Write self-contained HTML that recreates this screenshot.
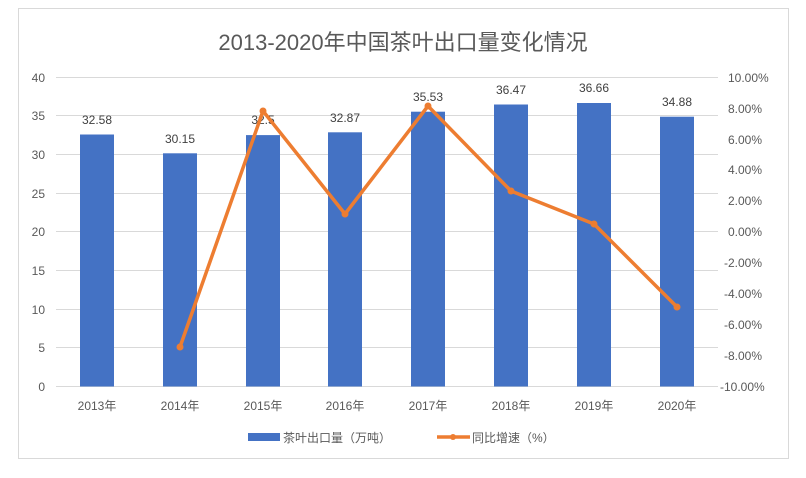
<!DOCTYPE html>
<html><head><meta charset="utf-8"><style>
body{margin:0;background:#fff;}
svg text{font-family:"Liberation Sans","Noto Sans CJK SC",sans-serif;}
</style></head><body>
<svg width="806" height="473" xmlns="http://www.w3.org/2000/svg">
<rect x="18.5" y="8.5" width="770" height="450" fill="#fff" stroke="#d9d9d9"/>
<text x="403" y="50" font-size="22" fill="#595959" text-anchor="middle">2013-2020年中国茶叶出口量变化情况</text>
<g stroke="#d9d9d9" stroke-width="1">
<line x1="56" y1="77.5" x2="718" y2="77.5"/><line x1="56" y1="115.5" x2="718" y2="115.5"/>
<line x1="56" y1="154.5" x2="718" y2="154.5"/><line x1="56" y1="193.5" x2="718" y2="193.5"/>
<line x1="56" y1="231.5" x2="718" y2="231.5"/><line x1="56" y1="270.5" x2="718" y2="270.5"/>
<line x1="56" y1="309.5" x2="718" y2="309.5"/><line x1="56" y1="347.5" x2="718" y2="347.5"/>
<line x1="56" y1="386.5" x2="718" y2="386.5"/>
</g>
<g font-size="12" fill="#595959" text-anchor="end">
<text x="45" y="82">40</text><text x="45" y="120">35</text><text x="45" y="159">30</text>
<text x="45" y="198">25</text><text x="45" y="236">20</text><text x="45" y="275">15</text>
<text x="45" y="314">10</text><text x="45" y="352">5</text><text x="45" y="391">0</text>
</g>
<g font-size="12" fill="#595959" text-anchor="start">
<text x="728" y="82">10.00%</text><text x="728" y="113">8.00%</text><text x="728" y="144">6.00%</text>
<text x="728" y="174">4.00%</text><text x="728" y="205">2.00%</text><text x="728" y="236">0.00%</text>
<text x="724" y="267">-2.00%</text><text x="724" y="298">-4.00%</text><text x="724" y="329">-6.00%</text>
<text x="724" y="360">-8.00%</text><text x="720" y="391">-10.00%</text>
</g>
<g fill="#4472c4">
<rect x="80" y="134.5" width="34" height="252"/>
<rect x="163" y="153.3" width="34" height="233.2"/>
<rect x="246" y="135.1" width="34" height="251.4"/>
<rect x="328" y="132.3" width="34" height="254.2"/>
<rect x="411" y="111.7" width="34" height="274.8"/>
<rect x="494" y="104.5" width="34" height="282"/>
<rect x="577" y="103" width="34" height="283.5"/>
<rect x="660" y="116.7" width="34" height="269.8"/>
</g>
<g font-size="12" fill="#404040" text-anchor="middle">
<text x="97" y="124">32.58</text><text x="180" y="143">30.15</text><text x="263" y="124">32.5</text>
<text x="345" y="122">32.87</text><text x="428" y="101">35.53</text><text x="511" y="94">36.47</text>
<text x="594" y="92">36.66</text><text x="677" y="106">34.88</text>
</g>
<polyline points="180,347 263,111 345,214 428,106 511,191 594,224 677,307" fill="none" stroke="#ed7d31" stroke-width="3.5" stroke-linejoin="round"/>
<g fill="#ed7d31">
<circle cx="180" cy="347" r="3.5"/><circle cx="263" cy="111" r="3.5"/><circle cx="345" cy="214" r="3.5"/>
<circle cx="428" cy="106" r="3.5"/><circle cx="511" cy="191" r="3.5"/><circle cx="594" cy="224" r="3.5"/><circle cx="677" cy="307" r="3.5"/>
</g>
<g font-size="12" fill="#595959" text-anchor="middle">
<text x="97" y="410">2013年</text><text x="180" y="410">2014年</text><text x="263" y="410">2015年</text>
<text x="345" y="410">2016年</text><text x="428" y="410">2017年</text><text x="511" y="410">2018年</text>
<text x="594" y="410">2019年</text><text x="677" y="410">2020年</text>
</g>
<rect x="248" y="433" width="32" height="8" fill="#4472c4"/>
<text x="283" y="442" font-size="12" fill="#595959">茶叶出口量（万吨）</text>
<line x1="437" y1="437" x2="470" y2="437" stroke="#ed7d31" stroke-width="3.5"/>
<circle cx="453" cy="437" r="3" fill="#ed7d31"/>
<text x="472" y="442" font-size="12" fill="#595959">同比增速（%）</text>
</svg>
</body></html>
